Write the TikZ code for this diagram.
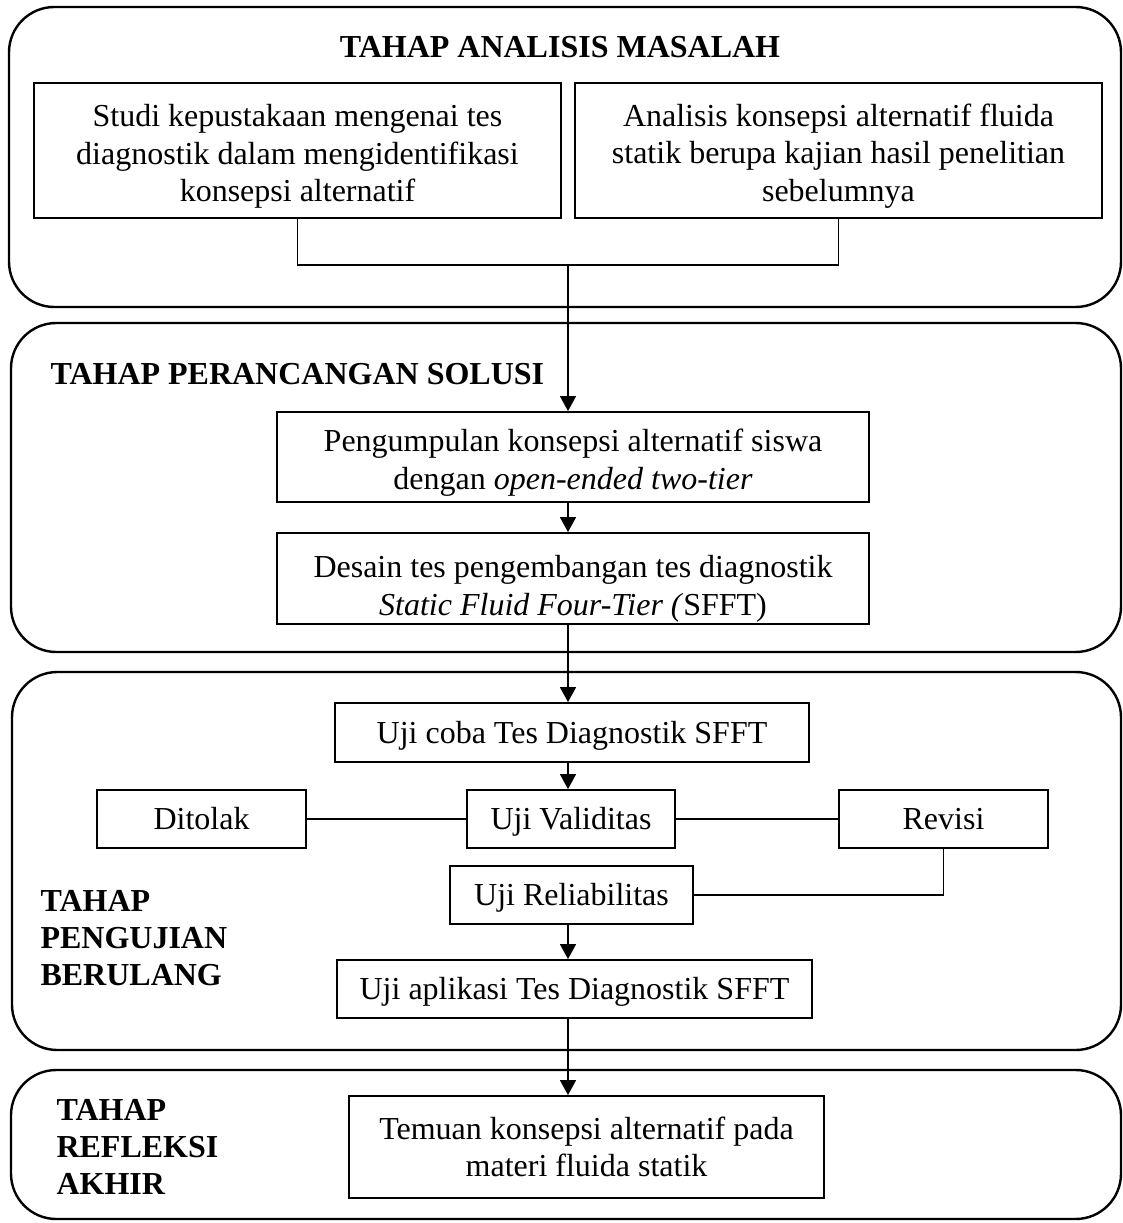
\documentclass[tikz,border=0pt]{standalone}
\usepackage{fontspec}
\setmainfont{Liberation Serif}
\usetikzlibrary{arrows.meta}
\newcommand\toppad[1]{\rule{0pt}{#1}}
\begin{document}
\begin{tikzpicture}[x=0.375pt,y=-0.375pt,
  phase/.style={draw,line width=0.9pt,rounded corners=17pt},
  stepbox/.style={draw,line width=0.7pt,inner sep=0pt,align=center,font=\fontsize{12}{14}\selectfont},
  oneline/.style={stepbox,text height=8.2pt,text depth=0pt},
  conn/.style={line width=0.45pt},
  arr/.style={line width=0.45pt,-{Triangle[length=5.6pt,width=6pt]}},
  head/.style={font=\bfseries\fontsize{12}{13.9}\selectfont,inner sep=0pt,align=left}]
\useasboundingbox (0,0) rectangle (1123,1223);
% phase frames
\draw[phase] (9,7) rectangle (1121,307);
\draw[phase] (11,323) rectangle (1121,652);
\draw[phase] (12,672) rectangle (1121,1050);
\draw[phase] (11,1070) rectangle (1121,1219);
% headings
\node[head] (h1) at (560,47) {TAHAP ANALISIS MASALAH};
\node[head,anchor=west] (h2) at (50,374) {TAHAP PERANCANGAN SOLUSI};
\node[head,anchor=west] (h3) at (40,938) {TAHAP\\PENGUJIAN\\BERULANG};
\node[head,anchor=west] (h4) at (56,1147) {TAHAP\\REFLEKSI\\AKHIR};
% boxes
\node[stepbox,minimum width=197.6pt,minimum height=50.6pt] (s1) at (297.5,150.5)
  {\toppad{12.7pt}Studi kepustakaan mengenai tes\\diagnostik dalam mengidentifikasi\\konsepsi alternatif};
\node[stepbox,minimum width=197.6pt,minimum height=50.6pt] (s2) at (838.5,150.5)
  {\toppad{12.7pt}Analisis konsepsi alternatif fluida\\statik berupa kajian hasil penelitian\\sebelumnya};
\node[stepbox,minimum width=222pt,minimum height=33.75pt] (p1) at (573,457)
  {\toppad{12.7pt}Pengumpulan konsepsi alternatif siswa\\dengan \textit{open-ended two-tier}};
\node[stepbox,minimum width=222pt,minimum height=34.1pt] (p2) at (573,578.5)
  {\toppad{16pt}Desain tes pengembangan tes diagnostik\\\textit{Static Fluid Four-Tier (}SFFT)};
\node[oneline,minimum width=177.75pt,minimum height=22.1pt] (u1) at (572,732.5)
  {Uji coba Tes Diagnostik SFFT};
\node[oneline,minimum width=78.4pt,minimum height=21.75pt] (dit) at (201.5,819) {Ditolak};
\node[oneline,minimum width=78pt,minimum height=21.75pt] (val) at (571,819) {Uji Validitas};
\node[oneline,minimum width=78.4pt,minimum height=21.75pt] (rev) at (943.5,819) {Revisi};
\node[oneline,minimum width=91.1pt,minimum height=21.75pt] (rel) at (571.5,895) {Uji Reliabilitas};
\node[oneline,minimum width=178.1pt,minimum height=21.75pt] (app) at (574.5,989)
  {Uji aplikasi Tes Diagnostik SFFT};
\node[stepbox,minimum width=178.1pt,minimum height=38.25pt] (tem) at (586.5,1147)
  {Temuan konsepsi alternatif pada\\materi fluida statik};
% connectors
\coordinate (m) at (568,265);
\draw[conn] (s1.south) |- (m) -| (s2.south);
\draw[arr] (m) -- (m |- p1.north);
\draw[arr] (m |- p1.south) -- (m |- p2.north);
\draw[arr] (m |- p2.south) -- (m |- u1.north);
\draw[arr] (m |- u1.south) -- (m |- val.north);
\draw[conn] (dit.east) -- (val.west);
\draw[conn] (val.east) -- (rev.west);
\draw[conn] (rev.south) |- (rel.east);
\draw[arr] (m |- rel.south) -- (m |- app.north);
\draw[arr] (m |- app.south) -- (m |- tem.north);
\end{tikzpicture}
\end{document}
